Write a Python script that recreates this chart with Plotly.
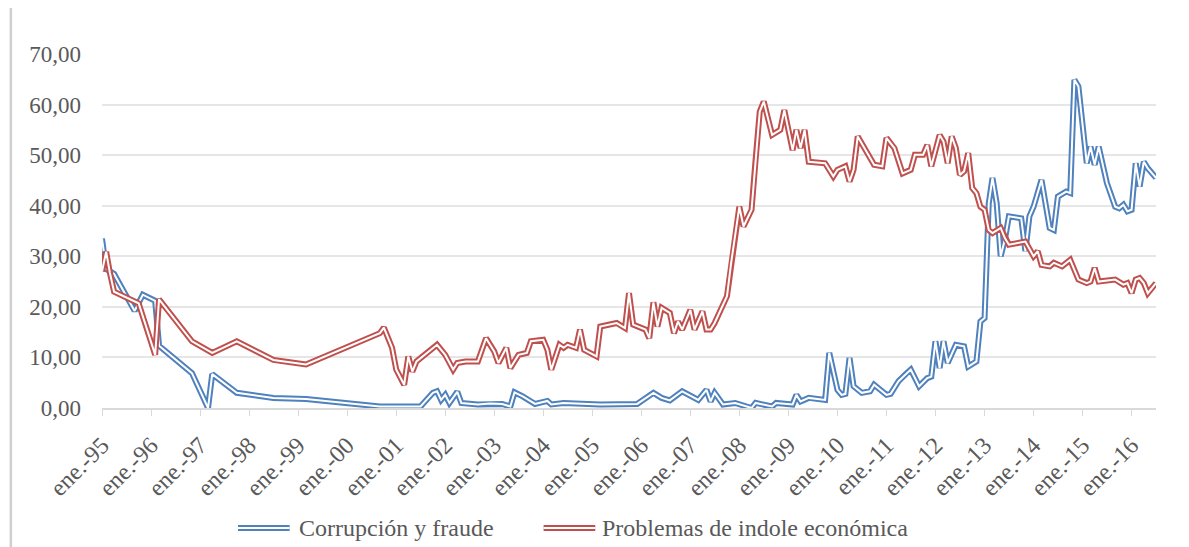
import plotly.graph_objects as go

# Corrupción y fraude (blue)
corr_dates = [
    "1995-01", "1995-02", "1995-04", "1995-09", "1995-11", "1996-02", "1996-03",
    "1996-11", "1997-03", "1997-04", "1997-10", "1998-07", "1999-03", "2000-09",
    "2001-07", "2001-10", "2001-11", "2001-12", "2002-01", "2002-02", "2002-04",
    "2002-05", "2002-09", "2002-12", "2003-03", "2003-05", "2003-06", "2003-08",
    "2003-11", "2004-02", "2004-03", "2004-06", "2005-03", "2005-12", "2006-04",
    "2006-06", "2006-08", "2006-11", "2007-03", "2007-05", "2007-06", "2007-07",
    "2007-09", "2007-12", "2008-04", "2008-05", "2008-09", "2008-10", "2009-02",
    "2009-03", "2009-04", "2009-06", "2009-10", "2009-11", "2010-01", "2010-02",
    "2010-03", "2010-04", "2010-05", "2010-07", "2010-09", "2010-10", "2011-01",
    "2011-02", "2011-04", "2011-06", "2011-07", "2011-09", "2011-11", "2011-12",
    "2012-01", "2012-02", "2012-03", "2012-04", "2012-06", "2012-08", "2012-09",
    "2012-11", "2012-12", "2013-01", "2013-02", "2013-03", "2013-04", "2013-05",
    "2013-06", "2013-07", "2013-10", "2013-11", "2013-12", "2014-01", "2014-03",
    "2014-05", "2014-06", "2014-07", "2014-09", "2014-10", "2014-11", "2014-12",
    "2015-02", "2015-03", "2015-04", "2015-05", "2015-07", "2015-09", "2015-10",
    "2015-11", "2015-12", "2016-01", "2016-02", "2016-03", "2016-04", "2016-05",
    "2016-07",
]
corr_values = [
    33.5, 27.5, 26.5, 19.2, 22.4, 21.2, 12.3,
    6.9, 0.0, 6.7, 3.0, 2.0, 1.8, 0.3,
    0.3, 3.0, 3.3, 1.6, 2.6, 1.0, 3.2,
    1.0, 0.7, 0.9, 0.8, 0.3, 3.1, 2.3,
    0.8, 1.4, 0.7, 1.0, 0.7, 0.8, 3.0,
    2.0, 1.5, 3.3, 1.6, 3.6, 1.3, 3.0,
    0.7, 1.0, 0.0, 1.0, 0.3, 1.0, 0.7,
    2.6, 1.3, 2.0, 1.6, 10.9, 3.6, 2.6,
    2.8, 9.9, 4.3, 3.0, 3.3, 4.6, 2.6,
    2.8, 5.3, 6.9, 7.6, 4.3, 5.9, 6.2,
    13.2, 7.9, 13.2, 8.9, 12.5, 12.2, 8.2,
    9.2, 17.1, 17.8, 40.5, 45.5, 40.5, 30.0,
    33.3, 37.9, 37.5, 31.0, 37.9, 39.8, 45.1,
    35.6, 35.2, 41.8, 42.8, 42.5, 64.9, 63.6,
    48.4, 51.7, 48.1, 51.7, 44.5, 39.8, 39.5,
    40.2, 38.9, 39.2, 48.4, 43.8, 48.7, 47.4,
    45.5,
]

# Problemas de indole económica (red)
econ_dates = [
    "1995-01", "1995-02", "1995-03", "1995-04", "1995-10", "1996-02", "1996-03",
    "1996-11", "1997-04", "1997-10", "1998-07", "1999-03", "2000-09", "2000-10",
    "2000-12", "2001-01", "2001-03", "2001-04", "2001-05", "2001-06", "2001-11",
    "2002-01", "2002-03", "2002-04", "2002-06", "2002-09", "2002-11", "2003-01",
    "2003-02", "2003-04", "2003-05", "2003-07", "2003-09", "2003-10", "2004-01",
    "2004-02", "2004-03", "2004-05", "2004-06", "2004-07", "2004-09", "2004-10",
    "2004-11", "2005-02", "2005-03", "2005-07", "2005-09", "2005-10", "2005-11",
    "2006-02", "2006-03", "2006-04", "2006-05", "2006-06", "2006-08", "2006-09",
    "2006-10", "2006-11", "2007-01", "2007-02", "2007-04", "2007-05", "2007-06",
    "2007-07", "2007-10", "2007-11", "2008-01", "2008-02", "2008-04", "2008-05",
    "2008-06", "2008-07", "2008-09", "2008-11", "2008-12", "2009-02", "2009-03",
    "2009-04", "2009-05", "2009-06", "2009-10", "2009-12", "2010-01", "2010-03",
    "2010-04", "2010-05", "2010-06", "2010-10", "2010-12", "2011-01", "2011-03",
    "2011-05", "2011-07", "2011-08", "2011-10", "2011-11", "2011-12", "2012-02",
    "2012-03", "2012-04", "2012-05", "2012-06", "2012-07", "2012-08", "2012-09",
    "2012-10", "2012-11", "2012-12", "2013-01", "2013-02", "2013-03", "2013-05",
    "2013-06", "2013-07", "2013-11", "2014-01", "2014-02", "2014-03", "2014-05",
    "2014-06", "2014-08", "2014-10", "2014-12", "2015-02", "2015-03", "2015-04",
    "2015-05", "2015-09", "2015-11", "2015-12", "2016-01", "2016-02", "2016-03",
    "2016-04", "2016-05", "2016-07",
]
econ_values = [
    27.0, 30.9, 26.7, 23.0, 20.7, 10.5, 21.5,
    13.2, 10.9, 13.2, 9.5, 8.6, 14.8, 15.9,
    11.9, 7.6, 4.6, 10.2, 7.2, 9.2, 12.5,
    10.5, 7.6, 8.9, 9.2, 9.2, 13.8, 11.2,
    8.9, 11.9, 7.9, 10.5, 10.9, 13.2, 13.5,
    11.5, 7.6, 12.5, 11.9, 12.5, 11.9, 15.5,
    11.5, 10.2, 16.1, 16.8, 15.8, 22.7, 16.5,
    15.5, 13.8, 20.9, 16.1, 19.8, 18.8, 14.8,
    17.1, 15.5, 19.4, 15.5, 19.1, 15.5, 15.5,
    16.8, 22.1, 28.7, 39.8, 35.9, 39.2, 49.1,
    58.6, 60.6, 54.0, 55.0, 58.9, 51.0, 55.0,
    51.4, 55.0, 48.7, 48.4, 45.8, 47.1, 47.8,
    44.8, 47.1, 53.7, 48.1, 47.8, 53.4, 51.4,
    46.4, 47.1, 50.1, 50.1, 52.0, 47.8, 54.0,
    52.7, 48.4, 53.7, 51.4, 46.1, 46.8, 50.4,
    43.5, 42.5, 39.8, 39.2, 35.2, 34.6, 35.6,
    33.6, 32.3, 32.9, 30.0, 31.0, 28.3, 28.0,
    28.7, 28.0, 29.3, 25.4, 24.7, 25.0, 27.7,
    25.0, 25.4, 24.4, 24.7, 22.7, 25.4, 25.7,
    24.7, 22.7, 24.7,
]

years = list(range(1995, 2017))
x_tick_vals = [f"{y}-01-01" for y in years]
x_tick_labels = [f"ene.-{str(y)[2:]}" for y in years]

series = [
    ("Corrupción y fraude", corr_dates, corr_values, "#4f81bd"),
    ("Problemas de indole económica", econ_dates, econ_values, "#c0504d"),
]

FONT = "Liberation Serif, DejaVu Serif, serif"
TEXT_COLOR = "#595959"
OUTER_W = 6
INNER_W = 2

fig = go.Figure()

# Excel-style compound (double) line: thick coloured stroke with a thin white core
for name, dates, values, color in series:
    fig.add_trace(go.Scatter(x=dates, y=values, mode="lines", name=name,
                             line={"color": color, "width": OUTER_W}, showlegend=False))
    fig.add_trace(go.Scatter(x=dates, y=values, mode="lines", hoverinfo="skip",
                             line={"color": "white", "width": INNER_W}, showlegend=False))

# the page body keeps its default 8px margin, so the figure is 8px smaller
fig.update_layout(
    width=1181,
    height=539,
    paper_bgcolor="white",
    plot_bgcolor="white",
    separators=",.",
    margin={"l": 94, "r": 33, "t": 46, "b": 139},
    font={"family": FONT, "color": TEXT_COLOR},
)

fig.update_xaxes(
    type="date",
    range=["1995-01-01", "2016-07-01"],
    tickmode="array",
    tickvals=x_tick_vals,
    ticktext=x_tick_labels,
    tickangle=-45,
    tickfont={"size": 24, "color": TEXT_COLOR},
    ticks="outside",
    ticklen=6,
    tickcolor="#d9d9d9",
    ticklabelstandoff=6,
    showgrid=False,
    showline=True,
    linecolor="#d9d9d9",
    linewidth=1.5,
    zeroline=False,
)

fig.update_yaxes(
    range=[0, 70],
    dtick=10,
    tickformat=".2f",
    tickfont={"size": 23, "color": TEXT_COLOR},
    showgrid=True,
    gridcolor="#e6e6e6",
    gridwidth=1.5,
    zeroline=False,
    showline=False,
    ticks="",
    ticklabelstandoff=20,
)

# left border of the chart area
fig.add_shape(type="line", xref="paper", yref="paper",
              x0=-0.0865, x1=-0.0865, y0=-0.45, y1=1.15,
              line={"color": "#cfcfcf", "width": 2.5})

# custom legend with double-line samples
legend_items = [(0.129, 0.178, 0.185), (0.419, 0.468, 0.4725)]
for (name, _, _, color), (lx0, lx1, tx) in zip(series, legend_items):
    fig.add_shape(type="line", xref="paper", yref="paper", x0=lx0, x1=lx1,
                  y0=-0.339, y1=-0.339, line={"color": color, "width": OUTER_W})
    fig.add_shape(type="line", xref="paper", yref="paper", x0=lx0, x1=lx1,
                  y0=-0.339, y1=-0.339, line={"color": "white", "width": INNER_W})
    fig.add_annotation(text=name, xref="paper", yref="paper", x=tx, y=-0.339,
                       xanchor="left", yanchor="middle", showarrow=False,
                       font={"size": 24, "color": TEXT_COLOR, "family": FONT})

fig.write_html("out.html")
